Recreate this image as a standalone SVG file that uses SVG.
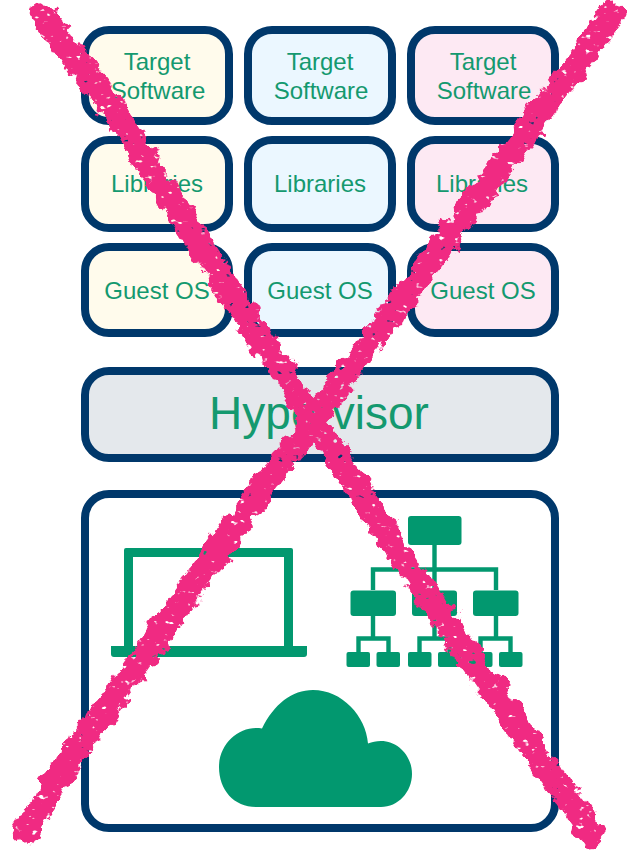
<svg xmlns="http://www.w3.org/2000/svg" width="627" height="853" viewBox="0 0 627 853">
<style>
.box{stroke:#00386b;stroke-width:8}
.cream{fill:#fffbec}.blue{fill:#ebf7ff}.rose{fill:#fde9f3}.grey{fill:#e4e8ec}.white{fill:#fff}
text{font-family:"Liberation Sans",Arial,sans-serif;fill:#14996f;text-anchor:middle;font-size:24px}
.g{fill:#02986f}
.gl{stroke:#02986f;stroke-width:4.4;fill:none}
.x{fill:none;stroke:#f02a82;stroke-width:25;stroke-linecap:round;stroke-linejoin:round}
</style>
<defs>
<filter id="rough" filterUnits="userSpaceOnUse" x="0" y="0" width="627" height="853">
<feTurbulence type="fractalNoise" baseFrequency="0.07" numOctaves="4" seed="7" result="n"/>
<feDisplacementMap in="SourceGraphic" in2="n" scale="17" xChannelSelector="R" yChannelSelector="G" result="d"/>
<feTurbulence type="fractalNoise" baseFrequency="0.13 0.2" numOctaves="2" seed="21" result="h"/>
<feColorMatrix in="h" type="matrix" values="0 0 0 0 0 0 0 0 0 0 0 0 0 0 0 9 0 0 0 -6.1" result="holes"/>
<feComposite in="d" in2="holes" operator="out"/>
</filter>
</defs>
<rect width="627" height="853" fill="#fff"/>
<g id="target-1"><rect class="box cream" x="85" y="30" width="144" height="91" rx="24"/><text x="157" y="70">Target</text><text x="158" y="99">Software</text></g>
<g id="target-2"><rect class="box blue" x="248" y="30" width="144" height="91" rx="24"/><text x="320" y="70">Target</text><text x="321" y="99">Software</text></g>
<g id="target-3"><rect class="box rose" x="411" y="30" width="144" height="91" rx="24"/><text x="483" y="70">Target</text><text x="484" y="99">Software</text></g>
<g id="libraries-1"><rect class="box cream" x="85" y="140" width="144" height="88" rx="24"/><text x="157" y="192">Libraries</text></g>
<g id="libraries-2"><rect class="box blue" x="248" y="140" width="144" height="88" rx="24"/><text x="320" y="192">Libraries</text></g>
<g id="libraries-3"><rect class="box rose" x="411" y="140" width="144" height="88" rx="24"/><text x="482" y="192">Libraries</text></g>
<g id="guest-1"><rect class="box cream" x="85" y="247" width="144" height="86" rx="24"/><text x="157" y="299">Guest OS</text></g>
<g id="guest-2"><rect class="box blue" x="248" y="247" width="144" height="86" rx="24"/><text x="320" y="299">Guest OS</text></g>
<g id="guest-3"><rect class="box rose" x="411" y="247" width="144" height="86" rx="24"/><text x="483" y="299">Guest OS</text></g>
<g id="hypervisor"><rect class="box grey" x="85" y="371" width="470" height="87" rx="24"/><text x="319" y="429" style="font-size:46px">Hypervisor</text></g>
<g id="hardware">
<rect class="box white" x="85" y="494" width="470" height="334" rx="24"/>
<g id="laptop">
<path class="g" fill-rule="evenodd" d="M126 548H291a2 2 0 0 1 2 2V646H307V654a3 3 0 0 1-3 3H114a3 3 0 0 1-3-3V646H124V550a2 2 0 0 1 2-2ZM133 557V646H284V557Z"/>
</g>
<g id="network">
<rect class="g" x="408" y="516" width="53.500" height="29" rx="3"/>
<path class="gl" d="M434.500 545V590M373 590V569.500H496V590M373 616V638.500M434.500 616V638.500M496 616V638.500M358.500 652V638.500H388.500V652M419.500 652V638.500H449.500V652M480.500 652V638.500H510.500V652"/>
<rect class="g" x="350.500" y="590.500" width="45.500" height="25.500" rx="3"/>
<rect class="g" x="412" y="590.500" width="45" height="25.500" rx="3"/>
<rect class="g" x="473" y="590.500" width="45.500" height="25.500" rx="3"/>
<rect class="g" x="346.500" y="652" width="23.500" height="15" rx="2"/>
<rect class="g" x="376.500" y="652" width="23.500" height="15" rx="2"/>
<rect class="g" x="408" y="652" width="23.500" height="15" rx="2"/>
<rect class="g" x="438" y="652" width="23.500" height="15" rx="2"/>
<rect class="g" x="469" y="652" width="23.500" height="15" rx="2"/>
<rect class="g" x="499" y="652" width="23.500" height="15" rx="2"/>
</g>
<g id="cloud">
<path class="g" d="M256 807C234 807 219 790 219 767C219 745 237 728 256 728C258 728 260 728 262 728.500C274 704 292 690 313 690C342 690 366 716 368 743.500C372 742 376 741 381 741C398 741 412 756 412 774C412 792 398 807 381 807Z"/>
</g>
</g>
<g id="connectors"></g>
<g id="cross" filter="url(#rough)">
<path class="x" d="M44 16L113 110L430 600L592 834"/>
<path class="x" d="M613 14L230 533L77 750L24 832"/>
</g>
</svg>
